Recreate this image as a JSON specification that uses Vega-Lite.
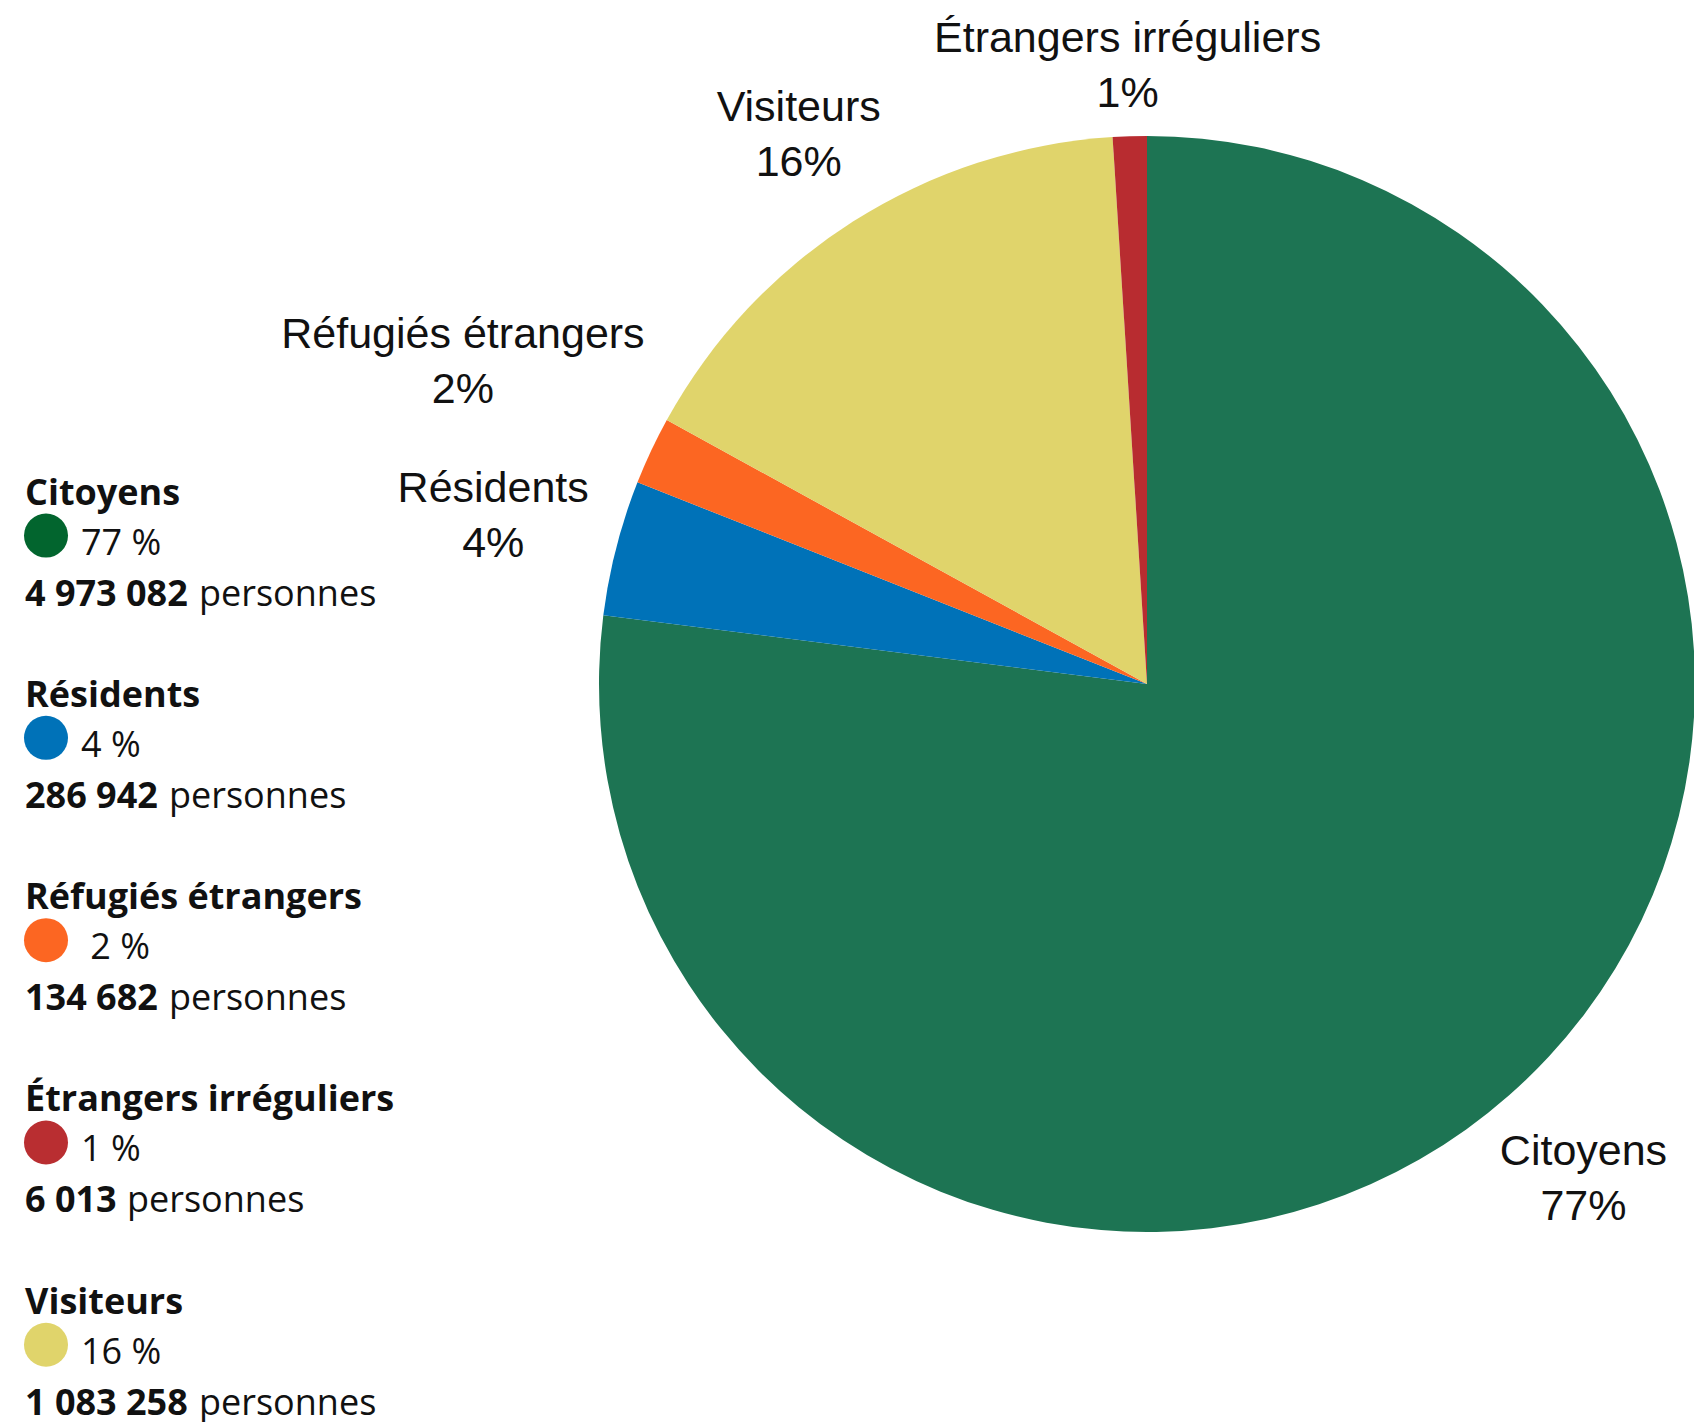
{
  "$schema": "https://vega.github.io/schema/vega-lite/v6.json",
  "background": "white",
  "padding": 0,
  "bounds": "flush",
  "spacing": 0,
  "data": {
    "values": [
      {"categorie": "Citoyens", "ordre": 1, "rang": 1, "part": 0.77, "pourcent": "77 %", "personnes": 4973082},
      {"categorie": "Résidents", "ordre": 2, "rang": 2, "part": 0.04, "pourcent": "4 %", "personnes": 286942},
      {"categorie": "Réfugiés étrangers", "ordre": 3, "rang": 3, "part": 0.02, "pourcent": "\u200b\u00a02 %", "personnes": 134682},
      {"categorie": "Visiteurs", "ordre": 4, "rang": 5, "part": 0.16, "pourcent": "16 %", "personnes": 1083258},
      {"categorie": "Étrangers irréguliers", "ordre": 5, "rang": 4, "part": 0.01, "pourcent": "1 %", "personnes": 6013}
    ]
  },
  "resolve": {"scale": {"color": "independent"}},
  "hconcat": [
    {
      "width": 600,
      "height": 1368,
      "encoding": {
        "y": {
          "field": "rang",
          "type": "quantitative",
          "scale": {"domain": [-1.494, 5.268], "reverse": true},
          "axis": null
        }
      },
      "layer": [
        {
          "mark": {"type": "text", "align": "left", "baseline": "alphabetic", "font": "Open Sans", "fontSize": 36, "fontWeight": "bold", "color": "#111"},
          "encoding": {"x": {"value": 25}, "text": {"field": "categorie"}}
        },
        {
          "mark": {"type": "circle", "size": 1936, "opacity": 1, "yOffset": 31},
          "encoding": {
            "x": {"value": 46},
            "color": {
              "field": "categorie",
              "scale": {
                "domain": ["Citoyens", "Résidents", "Réfugiés étrangers", "Étrangers irréguliers", "Visiteurs"],
                "range": ["#02652e", "#0072b8", "#fc6622", "#b92e31", "#e0d46b"]
              },
              "legend": null
            }
          }
        },
        {
          "mark": {"type": "text", "align": "left", "baseline": "alphabetic", "dy": 50, "font": "Open Sans", "fontSize": 36, "color": "#111"},
          "encoding": {"x": {"value": 81}, "text": {"field": "pourcent"}}
        },
        {
          "mark": {"type": "text", "align": "left", "baseline": "alphabetic", "dy": 101, "font": "Open Sans", "fontSize": 36, "fontWeight": "bold", "color": "#111"},
          "encoding": {"x": {"value": 25}, "text": {"field": "personnes", "type": "quantitative", "format": ",d"}}
        },
        {
          "transform": [{"filter": "datum.personnes >= 1000000"}],
          "mark": {"type": "text", "align": "left", "baseline": "alphabetic", "dy": 101, "dx": 174, "font": "Open Sans", "fontSize": 36, "color": "#111", "text": "personnes"},
          "encoding": {"x": {"value": 25}}
        },
        {
          "transform": [{"filter": "datum.personnes >= 100000 && datum.personnes < 1000000"}],
          "mark": {"type": "text", "align": "left", "baseline": "alphabetic", "dy": 101, "dx": 144, "font": "Open Sans", "fontSize": 36, "color": "#111", "text": "personnes"},
          "encoding": {"x": {"value": 25}}
        },
        {
          "transform": [{"filter": "datum.personnes < 100000"}],
          "mark": {"type": "text", "align": "left", "baseline": "alphabetic", "dy": 101, "dx": 102, "font": "Open Sans", "fontSize": 36, "color": "#111", "text": "personnes"},
          "encoding": {"x": {"value": 25}}
        }
      ]
    },
    {
      "width": 1094,
      "height": 1368,
      "encoding": {
        "theta": {"field": "part", "type": "quantitative", "stack": true, "scale": {"domain": [0, 1]}},
        "order": {"field": "ordre", "type": "quantitative"},
        "detail": {"field": "categorie"}
      },
      "layer": [
        {
          "mark": {"type": "arc", "outerRadius": 548},
          "encoding": {
            "color": {
              "field": "categorie",
              "scale": {
                "domain": ["Citoyens", "Résidents", "Réfugiés étrangers", "Visiteurs", "Étrangers irréguliers"],
                "range": ["#1d7453", "#0072b8", "#fc6622", "#e0d46b", "#b82c30"]
              },
              "legend": null
            }
          }
        },
        {
          "mark": {
            "type": "text",
            "radius": {"expr": "datum.ordre == 3 ? 756 : datum.ordre == 5 ? 618 : datum.ordre == 2 ? 675 : datum.ordre == 4 ? 650 : 660"},
            "dy": -27, "baseline": "middle", "font": "Liberation Sans", "fontSize": 43, "color": "#111"
          },
          "encoding": {"text": {"field": "categorie"}}
        },
        {
          "mark": {
            "type": "text",
            "radius": {"expr": "datum.ordre == 3 ? 756 : datum.ordre == 5 ? 618 : datum.ordre == 2 ? 675 : datum.ordre == 4 ? 650 : 660"},
            "dy": 28, "baseline": "middle", "font": "Liberation Sans", "fontSize": 43, "color": "#111"
          },
          "encoding": {"text": {"field": "part", "type": "quantitative", "format": ".0%"}}
        }
      ]
    }
  ],
  "config": {
    "view": {"stroke": null},
    "locale": {
      "number": {"decimal": ",", "thousands": " ", "grouping": [3], "currency": ["", " €"]}
    }
  }
}
